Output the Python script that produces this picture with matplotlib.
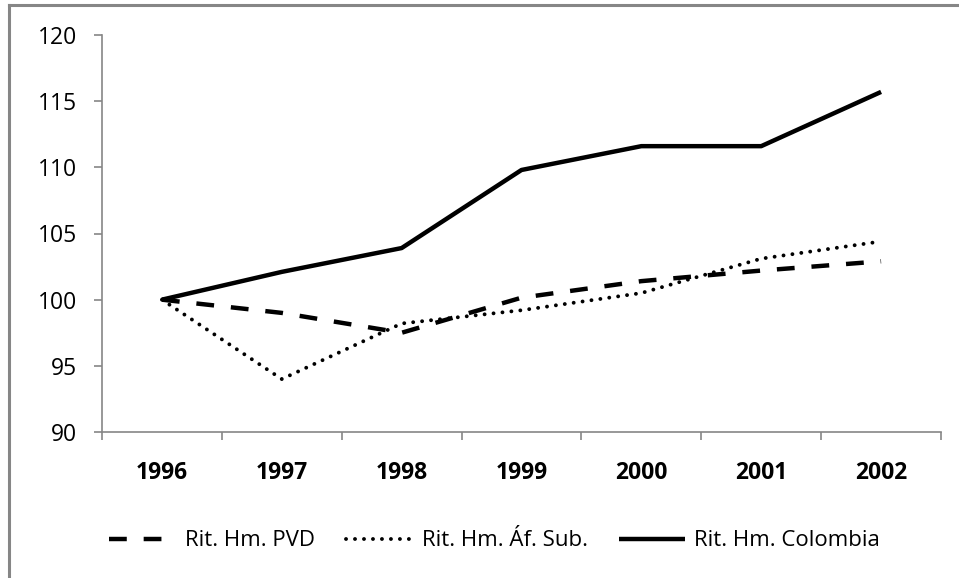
import numpy as np
import matplotlib
matplotlib.use('Agg')
import matplotlib.pyplot as plt
from matplotlib.lines import Line2D

plt.rcParams['font.family'] = ['Open Sans', 'DejaVu Sans']

# data
years = ['1996', '1997', '1998', '1999', '2000', '2001', '2002']
pvd = [100, 99.0, 97.5, 100.15, 101.4, 102.2, 102.9]
af_sub = [100, 94.0, 98.2, 99.2, 100.5, 103.1, 104.4]
colombia = [100, 102.1, 103.9, 109.8, 111.6, 111.6, 115.7]

W, H = 959, 578
fig = plt.figure(figsize=(W / 100, H / 100), dpi=100)
ax = fig.add_axes([102 / W, 1 - 432 / H, (941 - 102) / W, (432 - 35) / H])

x = np.arange(len(years))
ax.plot(x, pvd, color='black', lw=3.2, dashes=(4.0, 3.8), dash_capstyle='butt',
        label='Rit. Hm. PVD')
ax.plot(x, af_sub, color='black', lw=2.8, dashes=(0.01, 2.3), dash_capstyle='round',
        label='Rit. Hm. Áf. Sub.')
ax.plot(x, colombia, color='black', lw=3.2, solid_capstyle='butt',
        label='Rit. Hm. Colombia')

ax.set_xlim(-0.5, len(years) - 0.5)
ax.set_ylim(90, 120)
ax.set_yticks(np.arange(90, 121, 5))
ax.set_xticks(x)
ax.set_xticklabels(years, fontweight='bold', fontsize=16.5)
ax.set_xticks(np.arange(-0.5, len(years)), minor=True)
ax.tick_params(axis='x', which='major', length=0, pad=21)
ax.tick_params(axis='x', which='minor', length=6, width=1.2, color='#868686')
ax.tick_params(axis='y', length=6, width=1.2, color='#868686', labelsize=16.5, pad=12)

for s in ['top', 'right']:
    ax.spines[s].set_visible(False)
for s in ['left', 'bottom']:
    ax.spines[s].set_color('#868686')
    ax.spines[s].set_linewidth(1.2)

fig.legend(loc='center', bbox_to_anchor=(0.516, 1 - 541 / H), ncol=3, frameon=False,
           fontsize=16, handlelength=3.0, columnspacing=1.4, handletextpad=0.4)

# outer border
fig.add_artist(Line2D([9 / W, 9 / W], [0, 1 - 5 / H], color='#868686', lw=2.2))
fig.add_artist(Line2D([9 / W, 1], [1 - 5 / H, 1 - 5 / H], color='#868686', lw=2.2))

fig.savefig('out.png', dpi=100)
